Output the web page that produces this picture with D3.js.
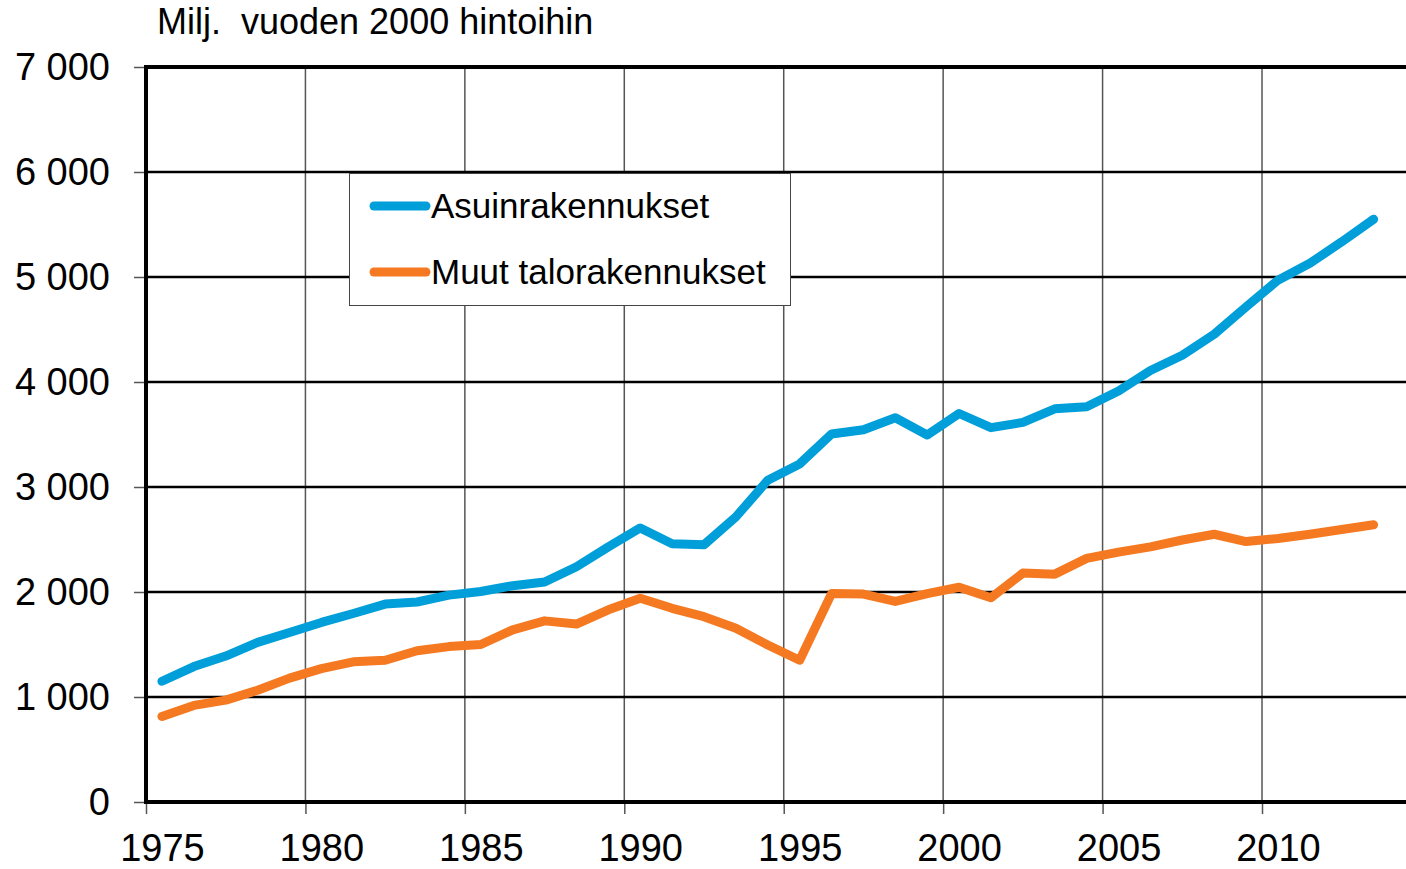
<!DOCTYPE html>
<html>
<head>
<meta charset="utf-8">
<script src="https://cdn.jsdelivr.net/npm/d3@7"></script>
<style>
  body { margin: 0; background: #fff; }
  svg text { font-family: "Liberation Sans", Arial, sans-serif; fill: #000; }
</style>
</head>
<body>
<svg id="chart" width="1406" height="869"></svg>
<script>
// Years 1975..2013, one point per year
var years = d3.range(1975, 2014);
var asuin = [1150, 1290, 1390, 1520, 1615, 1710, 1795, 1885, 1905, 1970, 2005, 2060, 2095, 2240, 2430, 2610,
             2460, 2450, 2715, 3065, 3220, 3505, 3545, 3660, 3495, 3700, 3565, 3615, 3745, 3765, 3915,
             4110, 4255, 4455, 4715, 4970, 5130, 5335, 5550];
var muut = [815, 920, 970, 1065, 1180, 1270, 1335, 1350, 1440, 1480, 1500, 1640, 1725, 1695, 1830, 1940,
            1845, 1765, 1655, 1495, 1350, 1985, 1980, 1910, 1985, 2045, 1945, 2180, 2170, 2320, 2380,
            2430, 2495, 2550, 2480, 2510, 2550, 2595, 2640];
var seriesNames = ["Asuinrakennukset", "Muut talorakennukset"];
var seriesColors = ["#009fda", "#f47920"];
var yTicks = [0, 1000, 2000, 3000, 4000, 5000, 6000, 7000];
var xTicks = [1975, 1980, 1985, 1990, 1995, 2000, 2005, 2010];
var unitLabel = "Milj.  vuoden 2000 hintoihin";

var svg = d3.select("#chart");
var plotLeft = 146, plotTop = 67, plotBottom = 802;

// x: category axis, points sit in the middle of each year
var x = d3.scaleLinear().domain([1975, 2015]).range([plotLeft, plotLeft + 40 * 31.886]);
var y = d3.scaleLinear().domain([0, 7000]).range([plotBottom, plotTop]);

var fi = d3.formatLocale({ decimal: ",", thousands: " ", grouping: [3], currency: ["", " €"] });
var fmt = fi.format(",");

// vertical grid (grey)
svg.append("g").selectAll("line")
  .data(xTicks.slice(1))
  .join("line")
  .attr("x1", function (d) { return x(d); })
  .attr("x2", function (d) { return x(d); })
  .attr("y1", plotTop).attr("y2", plotBottom)
  .attr("stroke", "#555").attr("stroke-width", 1.5);

// horizontal grid (black)
svg.append("g").selectAll("line")
  .data(yTicks.slice(1, -1))
  .join("line")
  .attr("x1", plotLeft).attr("x2", 1406)
  .attr("y1", function (d) { return y(d); })
  .attr("y2", function (d) { return y(d); })
  .attr("stroke", "#000").attr("stroke-width", 2.5);

// axes
var yAxis = svg.append("g")
  .attr("transform", "translate(" + plotLeft + ",0)")
  .call(d3.axisLeft(y).tickValues(yTicks).tickFormat(fmt).tickSize(12).tickPadding(24));
var xAxis = svg.append("g")
  .attr("transform", "translate(0," + plotBottom + ")")
  .call(d3.axisBottom(x).tickValues(xTicks).tickFormat(d3.format("d")).tickSize(12).tickPadding(20));

[yAxis, xAxis].forEach(function (g) {
  g.select(".domain").remove();
  g.selectAll(".tick line").attr("stroke", "#555").attr("stroke-width", 1.5);
  g.selectAll(".tick text").style("font-size", "38px").attr("fill", "#000");
});
// year labels sit in the middle of their category
xAxis.selectAll(".tick text").attr("x", function (d) { return x(d + 0.5) - x(d); });

// frame: left, top, bottom
svg.append("line").attr("x1", plotLeft).attr("x2", 1406).attr("y1", plotTop).attr("y2", plotTop)
  .attr("stroke", "#000").attr("stroke-width", 4);
svg.append("line").attr("x1", plotLeft).attr("x2", 1406).attr("y1", plotBottom).attr("y2", plotBottom)
  .attr("stroke", "#000").attr("stroke-width", 4);
svg.append("line").attr("x1", plotLeft).attr("x2", plotLeft).attr("y1", plotTop - 2).attr("y2", plotBottom + 2)
  .attr("stroke", "#000").attr("stroke-width", 4);

// series lines
var line = d3.line()
  .x(function (d, i) { return x(years[i] + 0.5); })
  .y(function (d) { return y(d); });

[asuin, muut].forEach(function (vals, i) {
  svg.append("path")
    .datum(vals)
    .attr("d", line)
    .attr("fill", "none")
    .attr("stroke", seriesColors[i])
    .attr("stroke-width", 9)
    .attr("stroke-linecap", "round")
    .attr("stroke-linejoin", "round");
});

// unit title
svg.append("text")
  .attr("x", 157).attr("y", 34)
  .style("font-size", "36px")
  .style("white-space", "pre")
  .text(unitLabel);

// legend
var legend = svg.append("g");
legend.append("rect")
  .attr("x", 349.5).attr("y", 173.5).attr("width", 441).attr("height", 132)
  .attr("fill", "#fff").attr("stroke", "#444").attr("stroke-width", 1);
seriesNames.forEach(function (name, i) {
  var ly = 206 + i * 66;
  legend.append("line")
    .attr("x1", 374).attr("x2", 426).attr("y1", ly).attr("y2", ly)
    .attr("stroke", seriesColors[i]).attr("stroke-width", 9).attr("stroke-linecap", "round");
  legend.append("text")
    .attr("x", 431).attr("y", ly + 12)
    .style("font-size", "35px")
    .text(name);
});
</script>
</body>
</html>
